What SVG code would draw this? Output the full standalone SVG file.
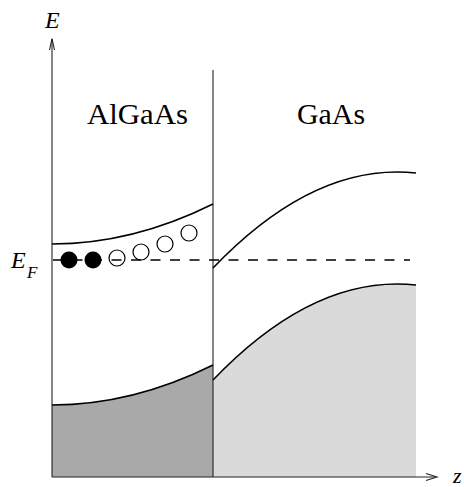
<svg xmlns="http://www.w3.org/2000/svg" width="464" height="487" viewBox="0 0 464 487">
<style>
.band{fill:none;stroke:#000;stroke-width:1.6}
.axis{fill:none;stroke:#222;stroke-width:1.1}
.lbl{font-family:"Liberation Serif","DejaVu Serif",serif;fill:#000}
.it{font-style:italic}
</style>
<rect width="464" height="487" fill="#fff"/>
<g id="algaas-valence-fill">
<path d="M52,405 Q132.5,405 213,365 L213,477 L52,477 Z" fill="#a9a9a9"/>
</g>
<g id="gaas-valence-fill">
<path d="M213,380 Q305,284 397,284 Q407,284 416,285 L416,477 L213,477 Z" fill="#dadada"/>
</g>
<g id="connectors">
<line class="axis" x1="52" y1="477" x2="52" y2="39"/>
<polyline class="axis" points="49.5,50 52,38.5 54.5,50"/>
<line class="axis" x1="52" y1="477" x2="436" y2="477"/>
<polyline class="axis" points="426,473.5 437,477 426,480.5"/>
<line class="axis" x1="213" y1="70" x2="213" y2="477"/>
<line x1="53" y1="260" x2="410" y2="260" stroke="#000" stroke-width="1.4" stroke-dasharray="10 9.5"/>
</g>
<g id="algaas-conduction"><path class="band" d="M52,244 Q132.5,244 213,204"/></g>
<g id="algaas-valence"><path class="band" d="M52,405 Q132.5,405 213,365"/></g>
<g id="gaas-conduction"><path class="band" d="M213,268 Q305,172 397,172 Q407,172 416,173"/></g>
<g id="gaas-valence"><path class="band" d="M213,380 Q305,284 397,284 Q407,284 416,285"/></g>
<g id="electrons">
<circle cx="69" cy="260" r="8.5" fill="#000"/>
<circle cx="93" cy="260" r="8.5" fill="#000"/>
</g>
<g id="empty-states" fill="none" stroke="#000" stroke-width="1.2">
<circle cx="117" cy="258" r="8"/>
<circle cx="141" cy="252" r="8"/>
<circle cx="165" cy="244" r="8"/>
<circle cx="189" cy="233" r="8"/>
</g>
<g id="labels">
<text class="lbl it" x="45" y="28" font-size="24">E</text>
<text class="lbl it" x="11" y="268" font-size="24">E</text>
<text class="lbl it" x="27" y="278" font-size="17">F</text>
<text class="lbl it" x="453" y="483" font-size="22">z</text>
<text class="lbl" x="87" y="124" font-size="29" textLength="101" lengthAdjust="spacingAndGlyphs">AlGaAs</text>
<text class="lbl" x="297" y="124" font-size="29" textLength="68" lengthAdjust="spacingAndGlyphs">GaAs</text>
</g>
</svg>
